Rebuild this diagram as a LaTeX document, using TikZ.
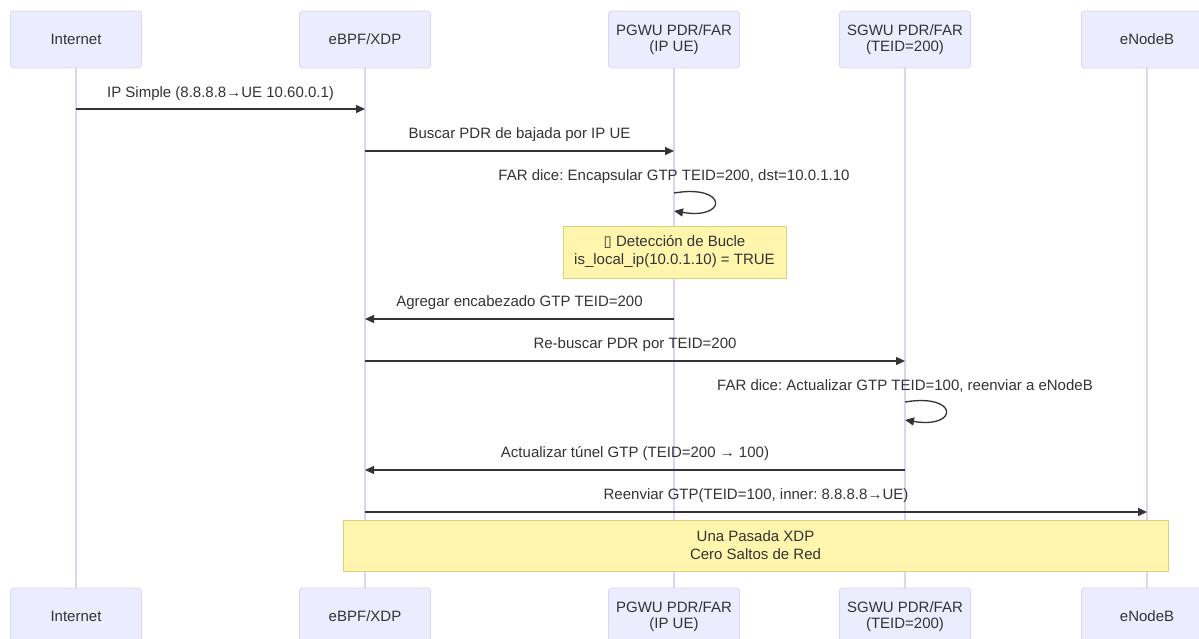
\documentclass[tikz,border=0pt]{standalone}
\usepackage{fontspec}
\setmainfont{Liberation Sans}
\newfontfamily\symfont{DejaVu Sans}
\usetikzlibrary{arrows.meta,positioning}
\frenchspacing

\definecolor{actorfill}{HTML}{ECECFF}
\definecolor{actorline}{HTML}{DDD4F5}
\definecolor{notefill}{HTML}{FFF5AD}
\definecolor{noteline}{HTML}{D8D27C}
\definecolor{txt}{HTML}{333333}

\tikzset{
  actor/.style={draw=actorline, fill=actorfill, rounded corners=3pt, line width=0.8pt,
    minimum width=131pt, minimum height=57pt, align=center, text=txt,
    font=\fontsize{15}{15.5}\selectfont},
  lifeline/.style={draw=actorline, line width=1.6pt},
  msg/.style={draw=txt, line width=1.3pt, -{Triangle[length=9pt,width=8pt]}},
  msglabel/.style={text=txt, inner sep=0pt, font=\fontsize{15}{18}\selectfont},
  note/.style={draw=noteline, fill=notefill, line width=0.8pt, align=center, text=txt,
    inner sep=0pt, font=\fontsize{15}{18}\selectfont},
}

\begin{document}
\begin{tikzpicture}[x=1pt, y=-1pt]
    \useasboundingbox (0,0) rectangle (1199,639);
    \clip (0,0) rectangle (1199,639);

    % participants, top row
    \node[actor] (inet) at (76,39.5) {Internet};
    \node[actor] (ebpf) at (365,39.5) {eBPF/XDP};
    \node[actor] (pgwu) at (674,39.5) {PGWU PDR/FAR\\(IP UE)};
    \node[actor] (sgwu) at (905,39.5) {SGWU PDR/FAR\\(TEID=200)};
    \node[actor] (enb) at (1147,39.5) {eNodeB};

    % participants, bottom row
    \node[actor] (inetb) at (76,616.5) {Internet};
    \node[actor] (ebpfb) at (365,616.5) {eBPF/XDP};
    \node[actor] (pgwub) at (674,616.5) {PGWU PDR/FAR\\(IP UE)};
    \node[actor] (sgwub) at (905,616.5) {SGWU PDR/FAR\\(TEID=200)};
    \node[actor] (enbb) at (1147,616.5) {eNodeB};

    % lifelines
    \foreach \p in {inet,ebpf,pgwu,sgwu,enb}
      \draw[lifeline] (\p.south) -- (\p b.north);

    % messages
    \draw[msg] (inet.south |- 0,109) -- node[msglabel, yshift=15pt] {IP Simple (8.8.8.8→UE 10.60.0.1)} (ebpf.south |- 0,109);
    \draw[msg] (ebpf.south |- 0,151) -- node[msglabel, yshift=16pt] {Buscar PDR de bajada por IP UE} (pgwu.south |- 0,151);

    % self message on PGWU
    \node[msglabel] (far1) at (pgwu.south |- 0,177) {FAR dice: Encapsular GTP TEID=200, dst=10.0.1.10};
    \draw[msg] (pgwu.south |- 0,193) .. controls +(54,-9) and +(54,9) .. (pgwu.south |- 0,211);

    % loop detection note
    \node[note, minimum width=223pt, minimum height=52pt] (bucle) at (674.5,252)
      {{\symfont ▯} Detección de Bucle\\is\_local\_ip(10.0.1.10) = TRUE};

    \draw[msg] (pgwu.south |- 0,319) -- node[msglabel, yshift=16pt] {Agregar encabezado GTP TEID=200} (ebpf.south |- 0,319);
    \draw[msg] (ebpf.south |- 0,361) -- node[msglabel, yshift=16pt] {Re-buscar PDR por TEID=200} (sgwu.south |- 0,361);

    % self message on SGWU
    \node[msglabel] (far2) at (sgwu.south |- 0,386) {FAR dice: Actualizar GTP TEID=100, reenviar a eNodeB};
    \draw[msg] (sgwu.south |- 0,402) .. controls +(54,-9) and +(54,9) .. (sgwu.south |- 0,420);

    \draw[msg] (sgwu.south |- 0,470) -- node[msglabel, yshift=16pt] {Actualizar túnel GTP (TEID=200 → 100)} (ebpf.south |- 0,470);
    \draw[msg] (ebpf.south |- 0,512) -- node[msglabel, yshift=16pt] {Reenviar GTP(TEID=100, inner: 8.8.8.8→UE)} (enb.south |- 0,512);

    % summary note
    \node[note, minimum width=825pt, minimum height=51pt] (pasada) at (755.5,545.5)
      {Una Pasada XDP\\Cero Saltos de Red};
\end{tikzpicture}
\end{document}
